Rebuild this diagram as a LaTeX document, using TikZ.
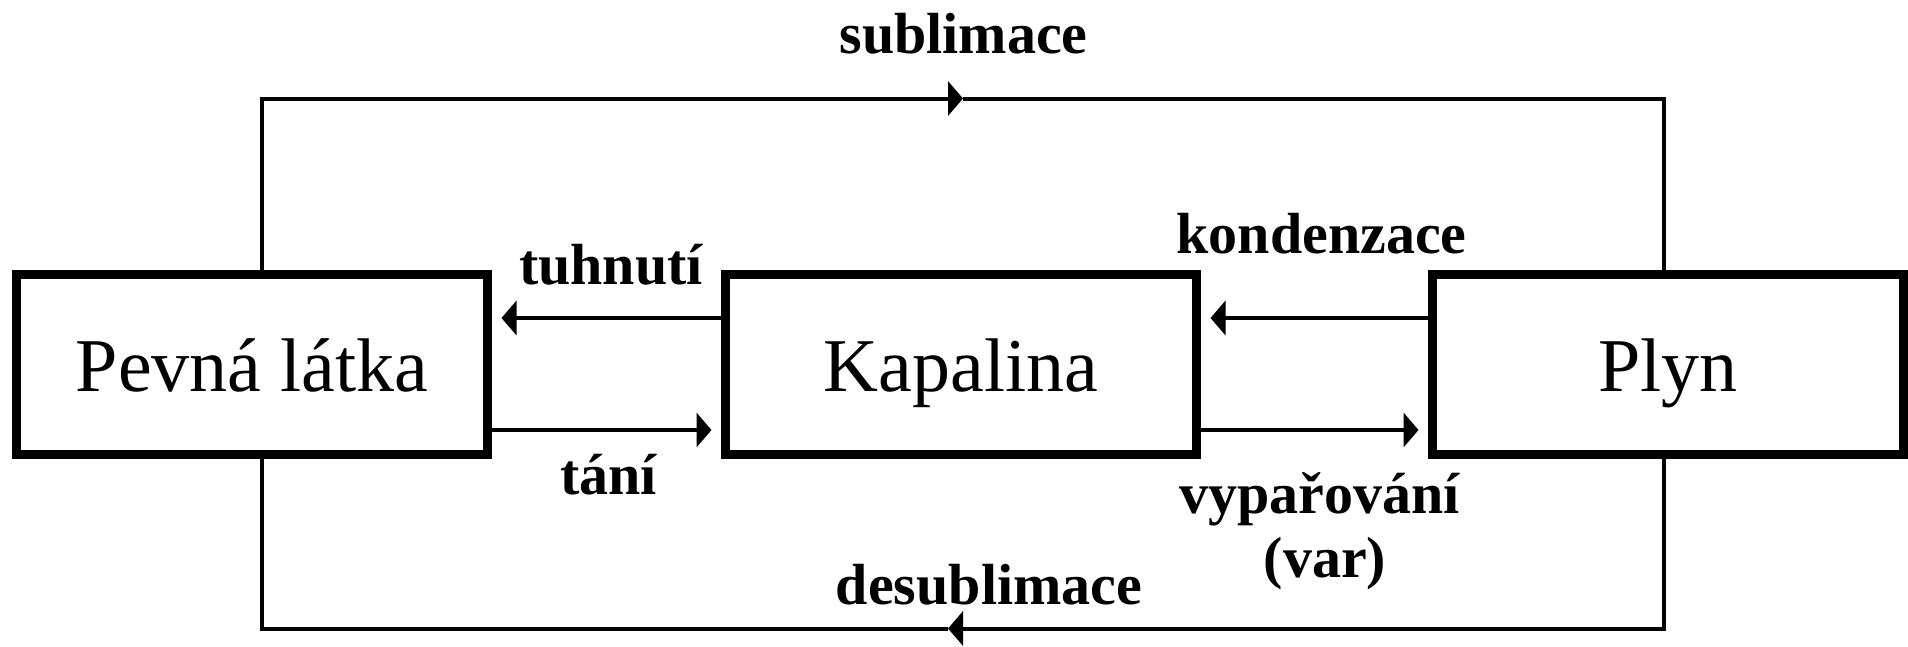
\documentclass[tikz,border=0pt]{standalone}
\usepackage{fontspec}
\setmainfont{Liberation Serif}
\usetikzlibrary{arrows.meta}
\begin{document}
\begin{tikzpicture}[x=1pt,y=-1pt,
  state/.style={draw,line width=9pt,rectangle,minimum width=471pt,minimum height=180pt,inner sep=0pt,
    font=\fontsize{76}{80}\selectfont,text height=53pt,text depth=0pt},
  conn/.style={line width=4pt},
  arr/.style={conn,-{Triangle[length=15pt,width=34pt]},shorten >=9.5pt},
  midarr/.style={conn,-{Triangle[length=15pt,width=34pt]}},
  lab/.style={font=\fontsize{58}{64}\selectfont\bfseries,anchor=base,inner sep=0pt}]
\useasboundingbox (0,0) rectangle (1908,646);
\node[state] (pevna) at (252,364.5) {Pevná látka};
\node[state] (kap) at (961,364.5) {Kapalina};
\node[state] (plyn) at (1668,364.5) {Plyn};
% helper coordinates
\coordinate (tl) at (262,98.5);
\coordinate (tr) at (1664,98.5);
\coordinate (tm) at (963,98.5);
\coordinate (bl) at (262,628.5);
\coordinate (br) at (1664,628.5);
\coordinate (bm) at (948,628.5);
\coordinate (rowa) at (0,318);
\coordinate (rowb) at (0,430);
% sublimace loop
\draw[midarr] (pevna.north -| tl) -- (tl) -- (tm);
\draw[conn] (tm) -- (tr) -- (plyn.north -| tr);
% desublimace loop
\draw[midarr] (plyn.south -| br) -- (br) -- (bm);
\draw[conn] (bm) -- (bl) -- (pevna.south -| bl);
% horizontal arrows
\draw[arr] (kap.west |- rowa) -- (pevna.east |- rowa);
\draw[arr] (pevna.east |- rowb) -- (kap.west |- rowb);
\draw[arr] (plyn.west |- rowa) -- (kap.east |- rowa);
\draw[arr] (kap.east |- rowb) -- (plyn.west |- rowb);
% labels
\node[lab] (lsub) at (963.5,53) {sublimace};
\node[lab] (ldes) at (989,604) {desublimace};
\node[lab] (ltuh) at (611,284) {tuhnutí};
\node[lab] (ltan) at (608.5,494) {tání};
\node[lab] (lkon) at (1321.5,253) {kondenzace};
\node[lab] (lvyp) at (1319.5,513) {vypařování};
\node[lab] (lvar) at (1325,577) {(var)};
\end{tikzpicture}
\end{document}
